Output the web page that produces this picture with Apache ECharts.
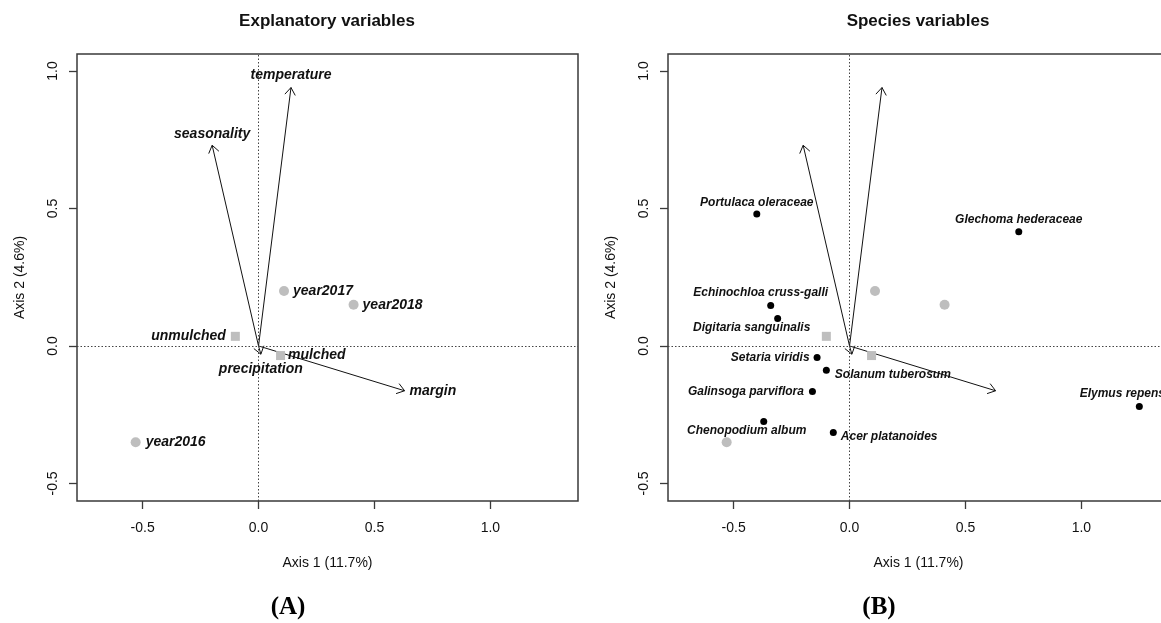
<!DOCTYPE html>
<html>
<head>
<meta charset="utf-8">
<script src="https://cdn.jsdelivr.net/npm/echarts@6/dist/echarts.min.js"></script>
<style>
  html, body { margin: 0; padding: 0; background: #fff; }
  #chart { width: 1161px; height: 623px; }
</style>
</head>
<body>
<div id="chart"></div>
<script>
// axis extents and ticks (shared by both panels)
const xRange = [-0.783, 1.378]
const yRange = [-0.564, 1.062]
const tickValues = [-0.5, 0, 0.5, 1.0]

// sample scores (gray circles)
const yearNames = ['year2016', 'year2017', 'year2018']
const yearX = [-0.53, 0.11, 0.41]
const yearY = [-0.35, 0.20, 0.15]

// treatment centroids (gray squares)
const treatNames = ['unmulched', 'mulched']
const treatX = [-0.10, 0.095]
const treatY = [0.035, -0.035]

// explanatory variable arrows
const envNames = ['temperature', 'seasonality', 'margin', 'precipitation']
const envX = [0.14, -0.20, 0.63, 0.01]
const envY = [0.94, 0.73, -0.163, -0.03]

// species scores (black dots)
const speciesNames = [
  'Portulaca oleraceae', 'Glechoma hederaceae', 'Echinochloa cruss-galli',
  'Digitaria sanguinalis', 'Setaria viridis', 'Solanum tuberosum',
  'Galinsoga parviflora', 'Chenopodium album', 'Acer platanoides', 'Elymus repens'
]
const speciesX = [-0.40, 0.73, -0.34, -0.31, -0.14, -0.10, -0.16, -0.37, -0.07, 1.25]
const speciesY = [0.48, 0.415, 0.147, 0.10, -0.042, -0.088, -0.166, -0.275, -0.315, -0.22]

const FONT = "'Liberation Sans', Arial, sans-serif"
const GRAY = '#bebebe'
const INK = '#111'

// label placement (style only)
const labelPos = {
  year2016: { position: 'right', distance: 5 },
  year2017: { position: 'right', distance: 4 },
  year2018: { position: 'right', distance: 4 },
  unmulched: { position: 'left', distance: 5 },
  mulched: { position: 'right', distance: 3 },
  temperature: { position: 'top', distance: 5 },
  seasonality: { position: 'top', distance: 4 },
  margin: { position: 'right', distance: 5 },
  precipitation: { position: 'bottom', distance: 8 },
  'Portulaca oleraceae': { position: 'top', distance: 2 },
  'Glechoma hederaceae': { position: 'top', distance: 3 },
  'Echinochloa cruss-galli': { position: 'top', distance: 3, offset: [-10, 0] },
  'Digitaria sanguinalis': { position: 'bottom', distance: 0, offset: [-26, 0] },
  'Setaria viridis': { position: 'left', distance: 4 },
  'Solanum tuberosum': { position: 'right', distance: 5, offset: [0, 5] },
  'Galinsoga parviflora': { position: 'left', distance: 5 },
  'Chenopodium album': { position: 'bottom', distance: 0, offset: [-17, 0] },
  'Acer platanoides': { position: 'right', distance: 4, offset: [0, 4] },
  'Elymus repens': { position: 'top', distance: 3, offset: [-17, 0] }
}

const pts = (names, xs, ys, withLabel, fontSize) => names.map((n, i) => ({
  name: n,
  value: [xs[i], ys[i]],
  label: withLabel ? Object.assign({
    show: true,
    formatter: '{b}',
    color: INK,
    fontFamily: FONT,
    fontSize: fontSize,
    fontWeight: 'bold',
    fontStyle: 'italic'
  }, labelPos[n]) : { show: false }
}))

const tickStyle = { color: '#3a3a3a', width: 1.3 }

const makeAxisX = (gi) => ({
  type: 'value',
  gridIndex: gi,
  min: xRange[0],
  max: xRange[1],
  name: 'Axis 1 (11.7%)',
  nameLocation: 'middle',
  nameGap: 55,
  nameTextStyle: { fontFamily: FONT, fontSize: 14, color: INK },
  axisLine: { show: false, onZero: false },
  splitLine: { show: false },
  axisTick: { show: true, inside: false, length: 8, customValues: tickValues, lineStyle: tickStyle },
  axisLabel: { customValues: tickValues, margin: 20, fontFamily: FONT, fontSize: 14, color: INK, formatter: v => v.toFixed(1) }
})

const makeAxisY = (gi) => ({
  type: 'value',
  gridIndex: gi,
  min: yRange[0],
  max: yRange[1],
  name: 'Axis 2 (4.6%)',
  nameLocation: 'middle',
  nameGap: 50,
  nameRotate: 90,
  nameTextStyle: { fontFamily: FONT, fontSize: 14, color: INK },
  axisLine: { show: false, onZero: false },
  splitLine: { show: false },
  axisTick: { show: true, inside: false, length: 8, customValues: tickValues, lineStyle: tickStyle },
  axisLabel: { customValues: tickValues, rotate: 90, margin: 17, fontFamily: FONT, fontSize: 14, color: INK, formatter: v => v.toFixed(1) }
})

const arrowSeries = (gi) => ({
  type: 'custom',
  xAxisIndex: gi,
  yAxisIndex: gi,
  silent: true,
  z: 4,
  encode: { x: 0, y: 1 },
  data: envX.map((x, i) => [x, envY[i]]),
  renderItem: (params, api) => {
    const o = api.coord([0, 0])
    const t = api.coord([api.value(0), api.value(1)])
    const ang = Math.atan2(t[1] - o[1], t[0] - o[0])
    const L = 9, a = 0.62
    const p1 = [t[0] - L * Math.cos(ang - a), t[1] - L * Math.sin(ang - a)]
    const p2 = [t[0] - L * Math.cos(ang + a), t[1] - L * Math.sin(ang + a)]
    return {
      type: 'group',
      children: [
        { type: 'line', shape: { x1: o[0], y1: o[1], x2: t[0], y2: t[1] }, style: { stroke: INK, lineWidth: 1 } },
        { type: 'polyline', shape: { points: [p1, t, p2] }, style: { stroke: INK, fill: null, lineWidth: 1 } }
      ]
    }
  },
  markLine: {
    silent: true,
    symbol: 'none',
    animation: false,
    label: { show: false },
    lineStyle: { color: '#444', width: 1, type: [1.5, 2] },
    data: [{ xAxis: 0 }, { yAxis: 0 }]
  }
})

const chart = echarts.init(document.getElementById('chart'), null, { renderer: 'canvas' })

const gridBase = {
  top: 54, width: 501, height: 447, show: true,
  borderColor: '#3a3a3a', borderWidth: 1.5, backgroundColor: 'transparent',
  containLabel: false, outerBoundsMode: 'none'
}

const option = {
  animation: false,
  backgroundColor: '#fff',
  grid: [
    Object.assign({ left: 77 }, gridBase),
    Object.assign({ left: 668 }, gridBase)
  ],
  xAxis: [makeAxisX(0), makeAxisX(1)],
  yAxis: [makeAxisY(0), makeAxisY(1)],
  graphic: [
    { type: 'text', x: 327, y: 21, style: { text: 'Explanatory variables', font: "bold 17px 'Liberation Sans', Arial, sans-serif", fill: '#111', textAlign: 'center', textVerticalAlign: 'middle' } },
    { type: 'text', x: 918, y: 21, style: { text: 'Species variables', font: "bold 17px 'Liberation Sans', Arial, sans-serif", fill: '#111', textAlign: 'center', textVerticalAlign: 'middle' } },
    { type: 'text', x: 288, y: 608, style: { text: '(A)', font: "bold 25px 'Liberation Serif', 'Times New Roman', serif", fill: '#000', textAlign: 'center', textVerticalAlign: 'middle' } },
    { type: 'text', x: 879, y: 608, style: { text: '(B)', font: "bold 25px 'Liberation Serif', 'Times New Roman', serif", fill: '#000', textAlign: 'center', textVerticalAlign: 'middle' } }
  ],
  series: [
    // panel A
    arrowSeries(0),
    {
      type: 'scatter', xAxisIndex: 0, yAxisIndex: 0, symbol: 'circle', symbolSize: 10, z: 5,
      itemStyle: { color: GRAY, opacity: 1 },
      data: pts(yearNames, yearX, yearY, true, 14)
    },
    {
      type: 'scatter', xAxisIndex: 0, yAxisIndex: 0, symbol: 'rect', symbolSize: 9, z: 5,
      itemStyle: { color: GRAY, opacity: 1 },
      data: pts(treatNames, treatX, treatY, true, 14)
    },
    {
      type: 'scatter', xAxisIndex: 0, yAxisIndex: 0, symbolSize: 0, z: 6,
      itemStyle: { color: 'transparent', opacity: 1 },
      data: pts(envNames, envX, envY, true, 14)
    },
    // panel B
    arrowSeries(1),
    {
      type: 'scatter', xAxisIndex: 1, yAxisIndex: 1, symbol: 'circle', symbolSize: 10, z: 5,
      itemStyle: { color: GRAY, opacity: 1 },
      data: pts(yearNames, yearX, yearY, false)
    },
    {
      type: 'scatter', xAxisIndex: 1, yAxisIndex: 1, symbol: 'rect', symbolSize: 9, z: 5,
      itemStyle: { color: GRAY, opacity: 1 },
      data: pts(treatNames, treatX, treatY, false)
    },
    {
      type: 'scatter', xAxisIndex: 1, yAxisIndex: 1, symbol: 'circle', symbolSize: 7, z: 6,
      itemStyle: { color: '#000', opacity: 1 },
      data: pts(speciesNames, speciesX, speciesY, true, 12)
    }
  ]
}

chart.setOption(option)
</script>
</body>
</html>
